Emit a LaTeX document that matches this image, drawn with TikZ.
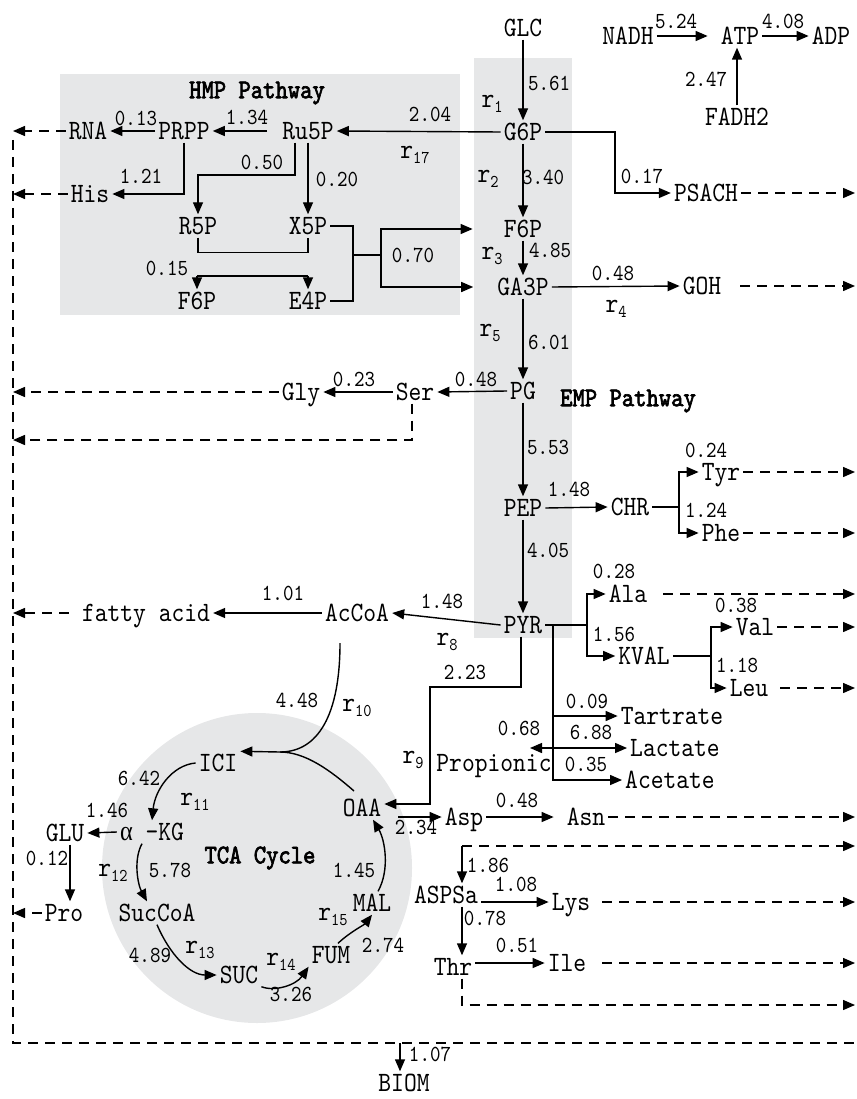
\documentclass[tikz,border=0pt]{standalone}
\usepackage{fontspec}
\usetikzlibrary{arrows.meta,calc}
\newfontfamily\lmm[FakeStretch=0.87]{lmmono10-regular.otf}
\newfontfamily\lmmb[FakeStretch=0.87,FakeBold=2.5]{lmmono10-regular.otf}
\newfontfamily\gkf[FakeStretch=0.87]{Liberation Serif}
\definecolor{bgray}{HTML}{E6E7E8}
\newcommand\nmf{\lmm\fontsize{28}{30}\selectfont}
\newcommand\nuf{\lmm\fontsize{23}{25}\selectfont}
\newcommand\titlef{\lmmb\fontsize{27}{30}\selectfont}
\newcommand\rsub[1]{r\raisebox{-5pt}{\fontsize{18}{18}\selectfont #1}}
\tikzset{
 nm/.style={font=\nmf, inner sep=3pt, text height=17pt, text depth=0pt},
 nu/.style={font=\nuf, inner sep=0pt, text height=14pt, text depth=0pt},
 rl/.style={font=\nmf, inner sep=0pt},
 ttl/.style={font=\titlef, inner sep=0pt},
 ln/.style={line width=1.4pt},
 ar/.style={line width=1.4pt, -{Triangle[length=12pt,width=10pt]}},
 da/.style={line width=1.4pt, dash pattern=on 10pt off 7pt, -{Triangle[length=12pt,width=10pt]}},
 dl/.style={line width=1.4pt, dash pattern=on 10pt off 7pt},
}
\begin{document}
\begin{tikzpicture}[x=1pt,y=-1pt]
\useasboundingbox (0,0) rectangle (856,1099);
% backgrounds
\fill[bgray] (60,74) rectangle (460,315);
\fill[bgray] (474,58) rectangle (572,638);
\fill[bgray] (257,868) circle (155);
% titles
\node[ttl] (tHMP) at (257,93) {HMP Pathway};
\node[ttl] (tEMP) at (628,401) {EMP Pathway};
\node[ttl] (tTCA) at (260,858) {TCA Cycle};
% main column
\node[nm] (GLC) at (523,28) {GLC};
\node[nm] (G6P) at (523,132) {G6P};
\node[nm] (F6Pm) at (523,229) {F6P};
\node[nm] (GA3P) at (523,287) {GA3P};
\node[nm] (PG) at (523,391) {PG};
\node[nm] (PEP) at (523,508) {PEP};
\node[nm] (PYR) at (523,625) {PYR};
\node[nu,anchor=west] (n561) at (528,84) {5.61};
\node[nu,anchor=west] (n340) at (522,178) {3.40};
\node[nu,anchor=west] (n485) at (529,250) {4.85};
\node[nu,anchor=west] (n601) at (528,342) {6.01};
\node[nu,anchor=west] (n553) at (527,447) {5.53};
\node[nu,anchor=west] (n405) at (527,550) {4.05};
\node[rl] (r1) at (492,104) {\rsub{1}};
\node[rl] (r2) at (488,179) {\rsub{2}};
\node[rl] (r3) at (492,256) {\rsub{3}};
\node[rl] (r5) at (490,333) {\rsub{5}};
\node[rl] (r4) at (616,309) {\rsub{4}};
\node[rl] (r17) at (415,155) {\rsub{17}};
\node[rl] (r8) at (447,642) {\rsub{8}};
\node[rl] (r9) at (413,760) {\rsub{9}};
\node[rl] (r10) at (357,708) {\rsub{10}};
\node[rl] (r11) at (195,802) {\rsub{11}};
\node[rl] (r12) at (113,873) {\rsub{12}};
\node[rl] (r13) at (200,950) {\rsub{13}};
\node[rl] (r14) at (281,962) {\rsub{14}};
\node[rl] (r15) at (333,917) {\rsub{15}};
\draw[ar] (GLC) -- (G6P);
\draw[ar] (G6P) -- (F6Pm);
\draw[ar] (F6Pm) -- (GA3P);
\draw[ar] (GA3P) -- (PG);
\draw[ar] (PG) -- (PEP);
\draw[ar] (PEP) -- (PYR);
% energy
\node[nm] (NADH) at (628,36) {NADH};
\node[nm] (ATP) at (740,36) {ATP};
\node[nm] (ADP) at (831,36) {ADP};
\node[nm] (FADH2) at (737,117) {FADH2};
\node[nu] (n524) at (676,22) {5.24};
\node[nu] (n408) at (783,22) {4.08};
\node[nu] (n247) at (706,80) {2.47};
\draw[ar, shorten >=10pt] (NADH.east) -- (ATP.west);
\draw[ar] (ATP.east) -- (ADP.west);
\draw[ar] (FADH2.north) -- (FADH2.north |- ATP.south);
% PSACH, GOH
\coordinate (rgt) at (855,0);
\coordinate (bioT) at (13,140);
\coordinate (bioL) at (13,1043);
\coordinate (bioR) at (856,1043);
\node[nm] (PSACH) at (706,193) {PSACH};
\node[nm] (GOH) at (702,286) {GOH};
\node[nu] (n017) at (642,177) {0.17};
\node[nu] (n048a) at (613,273) {0.48};
\coordinate (cPS) at (615,193);
\draw[ar] (G6P.east) -| (cPS) -- (PSACH.west);
\draw[da] (PSACH.east) -- (PSACH.east -| rgt);
\draw[ar] (GA3P.east) -- (GOH.west);
\draw[da, shorten <=16pt] (GOH.east) -- (GOH.east -| rgt);
% HMP
\node[nm] (Ru5P) at (308,131) {Ru5P};
\node[nm] (PRPP) at (184,131) {PRPP};
\node[nm] (RNA) at (88,131) {RNA};
\node[nm] (His) at (90,194) {His};
\node[nm] (R5P) at (198,226) {R5P};
\node[nm] (X5P) at (308,226) {X5P};
\node[nm] (F6Ph) at (197,301) {F6P};
\node[nm] (E4P) at (308,301) {E4P};
\node[nu] (n204) at (430,115) {2.04};
\node[nu] (n134) at (247,118) {1.34};
\node[nu] (n013) at (136,119) {0.13};
\node[nu] (n121) at (141,177) {1.21};
\node[nu] (n050) at (262,163) {0.50};
\node[nu] (n020) at (337,180) {0.20};
\node[nu] (n015) at (167,268) {0.15};
\node[nu] (n070) at (413,255) {0.70};
\draw[ar] (G6P.west) -- (Ru5P.east);
\draw[ar, shorten <=12pt] (Ru5P.west) -- (PRPP.east);
\draw[ar] (PRPP.west) -- (RNA.east);
\draw[da] (RNA.west) -- (RNA.west -| bioL);
\draw[ar] (PRPP.south) |- (His.east);
\draw[da] (His.west) -- (His.west -| bioL);
\coordinate (k1) at (295,175);
\draw[ar] (Ru5P.south -| k1) -- (k1) -| (R5P.north);
\draw[ar] (Ru5P.south) -- (X5P.north);
\draw[ln] (R5P.south) -- ++(0,15) -| (X5P.south);
\coordinate (k2) at (197,276);
\draw[ln] (k2) -- (k2 -| E4P.north);
\draw[ar] (k2) -- (F6Ph.north);
\draw[ar] (k2 -| E4P.north) -- (E4P.north);
\coordinate (k3) at (353,255);
\coordinate (k4) at (381,255);
\draw[ln] (X5P.east) -| (k3) |- (E4P.east);
\draw[ln] (k3) -- (k4);
\draw[ar, shorten >=28pt] (k4) |- (F6Pm.west);
\draw[ar, shorten >=21pt] (k4) |- (GA3P.west);
% Ser, Gly
\node[nm] (Ser) at (415,392) {Ser};
\node[nm] (Gly) at (301,392) {Gly};
\node[nu] (n048b) at (476,379) {0.48};
\node[nu] (n023) at (354,379) {0.23};
\draw[ar] (PG.west) -- (Ser.east);
\draw[ar] (Ser.west) -- (Gly.east);
\draw[da] (Gly.west) -- (Gly.west -| bioL);
\coordinate (k5) at (412,440);
\draw[da] (Ser.south -| k5) -- (k5) -- (k5 -| bioL);
% CHR
\node[nm] (CHR) at (630,507) {CHR};
\node[nm] (Tyr) at (721,472) {Tyr};
\node[nm] (Phe) at (721,533) {Phe};
\node[nu] (n148a) at (569,489) {1.48};
\node[nu] (n024) at (706,450) {0.24};
\node[nu] (n124) at (706,510) {1.24};
\draw[ar] (PEP.east) -- (CHR.west);
\coordinate (k6) at (679,507);
\draw[ln] (CHR.east) -- (k6);
\draw[ar] (k6) |- (Tyr.west);
\draw[ar] (k6) |- (Phe.west);
\draw[da] (Tyr.east) -- (Tyr.east -| rgt);
\draw[da] (Phe.east) -- (Phe.east -| rgt);
% Ala, KVAL
\node[nm] (Ala) at (628,594) {Ala};
\node[nm] (KVAL) at (644,656) {KVAL};
\node[nm] (Val) at (755,627) {Val};
\node[nm] (Leu) at (749,688) {Leu};
\node[nu] (n028) at (614,571) {0.28};
\node[nu] (n156) at (614,634) {1.56};
\node[nu] (n038) at (736,605) {0.38};
\node[nu] (n118) at (737,665) {1.18};
\coordinate (k7) at (587,625);
\draw[ln] (PYR.east) -- (k7);
\draw[ar] (k7) |- (Ala.west);
\draw[ar] (k7) |- (KVAL.west);
\draw[da, shorten <=13pt] (Ala.east) -- (Ala.east -| rgt);
\coordinate (k8) at (711,656);
\draw[ln] (KVAL.east) -- (k8);
\draw[ar] (k8) |- (Val.west);
\draw[ar] (k8) |- (Leu.west);
\draw[da] (Val.east) -- (Val.east -| rgt);
\draw[da, shorten <=9pt] (Leu.east) -- (Leu.east -| rgt);
% AcCoA
\node[nm] (AcCoA) at (357,613) {AcCoA};
\node[nm] (fatty) at (146,613) {fatty acid};
\node[nu] (n148b) at (442,601) {1.48};
\node[nu] (n101) at (283,593) {1.01};
\node[nu] (n223) at (465,672) {2.23};
\node[nu] (n448) at (297,700) {4.48};
\draw[ar] (PYR.west) -- (AcCoA.east);
\draw[ar] (AcCoA.west) -- (fatty.east);
\draw[da, shorten <=10pt] (fatty.west) -- (fatty.west -| bioL);
% organic acids
\node[nm] (Tart) at (672,716) {Tartrate};
\node[nm] (Lact) at (675,748) {Lactate};
\node[nm] (Acet) at (670,780) {Acetate};
\node[nm] (Prop) at (494,763) {Propionic};
\node[nu] (n009) at (587,701) {0.09};
\node[nu] (n688) at (591,732) {6.88};
\node[nu] (n035) at (586,764) {0.35};
\node[nu] (n068) at (519,728) {0.68};
\coordinate (k11) at (553,625);
\coordinate (kP) at (530,748);
\draw[ar] (k11) |- (Tart.west);
\draw[ar] (k11) |- (Lact.west);
\draw[ar] (k11) |- (Acet.west);
\draw[ar] (k11 |- kP) -- (kP);
% TCA
\node[nm] (ICI) at (218,763) {ICI};
\node[nm] (aKG) at (152,832) {{\gkf α} -KG};
\node[nm] (SucCoA) at (157,913) {SucCoA};
\node[nm] (SUC) at (239,975) {SUC};
\node[nm] (FUM) at (331,955) {FUM};
\node[nm] (MAL) at (372,903) {MAL};
\node[nm] (OAA) at (362,808) {OAA};
\node[nm] (GLU) at (65,833) {GLU};
\node[nm] (Pro) at (64,913) {Pro};
\node[nu] (n642) at (139,778) {6.42};
\node[nu] (n146) at (107,810) {1.46};
\node[nu] (n012) at (47,858) {0.12};
\node[nu] (n578) at (170,870) {5.78};
\node[nu] (n489) at (150,955) {4.89};
\node[nu] (n326) at (291,994) {3.26};
\node[nu] (n274) at (383,945) {2.74};
\node[nu] (n145) at (354,870) {1.45};
\coordinate (kA) at (340,643);
\coordinate (kJ) at (280,752);
\coordinate (kO) at (354,791);
\draw[ar] (kA) .. controls (340,715) and (318,752) .. (kJ) -- (ICI.north east);
\draw[ln] (kO) .. controls (330,770) and (305,752) .. (kJ);
\draw[ar] (ICI.west) .. controls (172,765) and (155,790) .. (aKG.north);
\draw[ar] (aKG.west) -- (GLU.east);
\coordinate (kG) at (70,840);
\draw[ar] (GLU.south -| kG) -- (Pro.north -| kG);
\draw[da] (Pro.west) -- (Pro.west -| bioL);
\draw[ar] ($(aKG.south)+(-10,0)$) .. controls (133,860) and (138,885) .. ($(SucCoA.north)+(-10,0)$);
\draw[ar] (SucCoA.south) .. controls (170,955) and (190,975) .. (SUC.west);
\draw[ar] (SUC.south east) .. controls (275,992) and (296,985) .. (FUM.south west);
\draw[ar] ($(FUM.north)+(7,0)$) .. controls (350,932) and (364,925) .. (MAL.south);
\draw[ar] ($(MAL.north)+(6,0)$) .. controls (390,870) and (385,840) .. ($(OAA.south)+(11,0)$);
% PYR -> OAA
\coordinate (k9) at (521,687);
\coordinate (k10) at (430,687);
\draw[ar] (PYR.south -| k9) -- (k9) -- (k10) |- ($(OAA.east)+(0,-4)$);
% Asp family
\node[nm] (Asp) at (464,817) {Asp};
\node[nm] (Asn) at (586,817) {Asn};
\node[nm] (ASPSa) at (446,895) {ASPSa};
\node[nm] (Lys) at (571,902) {Lys};
\node[nm] (Thr) at (453,967) {Thr};
\node[nm] (Ile) at (567,963) {Ile};
\node[nu] (n234) at (416,827) {2.34};
\node[nu] (n048c) at (517,800) {0.48};
\node[nu] (n186) at (488,865) {1.86};
\node[nu] (n108) at (516,884) {1.08};
\node[nu] (n078) at (485,918) {0.78};
\node[nu] (n051) at (517,945) {0.51};
\draw[ar, shorten <=14pt] (OAA.east |- Asp) -- (Asp.west);
\draw[ar, shorten >=10pt] (Asp.east) -- (Asn.west);
\draw[da] (Asn.east) -- (Asn.east -| rgt);
\coordinate (k14) at (462,846);
\draw[ar] (k14) -- (k14 |- ASPSa.north);
\draw[da] (k14) -- (k14 -| rgt);
\draw[ar] (ASPSa.east |- Lys) -- (Lys.west);
\draw[da, shorten <=9pt] (Lys.east) -- (Lys.east -| rgt);
\draw[ar] (ASPSa.south -| k14) -- (Thr.north -| k14);
\draw[ar] (Thr.east |- Ile) -- (Ile.west);
\draw[da, shorten <=13pt] (Ile.east) -- (Ile.east -| rgt);
\coordinate (k15) at (462,1005);
\draw[da] (Thr.south -| k15) -- (k15) -- (k15 -| rgt);
% biomass collector
\draw[dl] (bioT) -- (bioL) -- (bioR);
\node[nm] (BIOM) at (404,1083) {BIOM};
\node[nu] (n107) at (430,1054) {1.07};
\coordinate (k16) at (400,1043);
\draw[ar] (k16) -- (BIOM.north -| k16);
\end{tikzpicture}
\end{document}
